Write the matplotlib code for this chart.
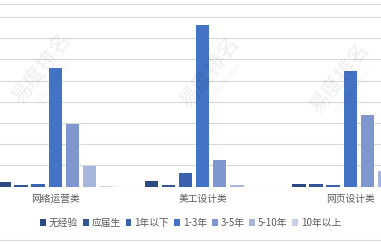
import numpy as np
import matplotlib.pyplot as plt

plt.rcParams['font.family'] = ['Noto Sans CJK SC', 'DejaVu Sans']

categories = ['网络运营类', '美工设计类', '网页设计类']
series = ['无经验', '应届生', '1年以下', '1-3年', '3-5年', '5-10年', '10年以上']
# share of postings (%) per experience level, one list per category
values = {
    '无经验':   [1.2, 1.3, 0.7],
    '应届生':   [0.3, 0.3, 0.7],
    '1年以下':  [0.6, 3.2, 0.5],
    '1-3年':    [28.0, 38.0, 27.2],
    '3-5年':    [14.7, 6.4, 16.8],
    '5-10年':   [4.9, 0.5, 3.7],
    '10年以上': [0.2, 0.0, 0.0],
}
colors = ['#2b4a80', '#325597', '#3a62ae', '#4472c4', '#7f97cf', '#a7b6dd', '#c8d1ea']

fig = plt.figure(figsize=(3.81, 2.44), dpi=100)
ax = fig.add_axes([0, 1 - 186.7 / 244, 1, 186.7 / 244])

x = np.arange(len(categories))
pitch = 0.116
width = 0.09
for i, name in enumerate(series):
    off = (i - 3) * pitch
    ax.bar(x + off, values[name], width, color=colors[i], label=name, zorder=3)

ax.set_xlim(-55.2 / 147.5, (381 - 55.2) / 147.5)
ax.set_ylim(0, 44.0)
ax.set_yticks(np.arange(0, 45, 5))
ax.grid(axis='y', color='#d9d9d9', linewidth=0.8, zorder=0)
ax.tick_params(left=False, labelleft=False, bottom=False, labelbottom=False)
for s in ax.spines.values():
    s.set_visible(False)
ax.axhline(0, color='#d9d9d9', linewidth=0.8, zorder=2)

# category names under each group
for xi, cat in zip(x, categories):
    ax.text(xi, -12.5 / 186.7 * 44.0, cat, ha='center', va='center',
            fontsize=7, color='#595959')

leg = fig.legend(loc='center', bbox_to_anchor=(190.7 / 381, 1 - 223 / 244),
                 ncol=7, frameon=False, fontsize=7, handlelength=0.6,
                 handleheight=0.6, handletextpad=0.3, columnspacing=0.5,
                 labelcolor='#595959')

# frame lines at top and bottom of the chart area
fig.add_artist(plt.Line2D([0, 1], [1 - 3.5 / 244] * 2, color='#d9d9d9', lw=0.8))
fig.add_artist(plt.Line2D([0, 1], [1 - 240 / 244] * 2, color='#d9d9d9', lw=0.8))

# faint site watermark
marks = [(42, 68), (210, 72), (340, 78)]
for mx, my in marks:
    fig.text(mx / 381, 1 - my / 244, '易度排名', fontsize=15, color='#000000',
             alpha=0.07, rotation=52, ha='center', va='center', zorder=0)
    fig.text((mx + 14) / 381, 1 - (my + 12) / 244, 'EDU Ranking.cn', fontsize=5,
             color='#000000', alpha=0.06, rotation=52, ha='center', va='center', zorder=0)

fig.savefig('out.png', dpi=100)
